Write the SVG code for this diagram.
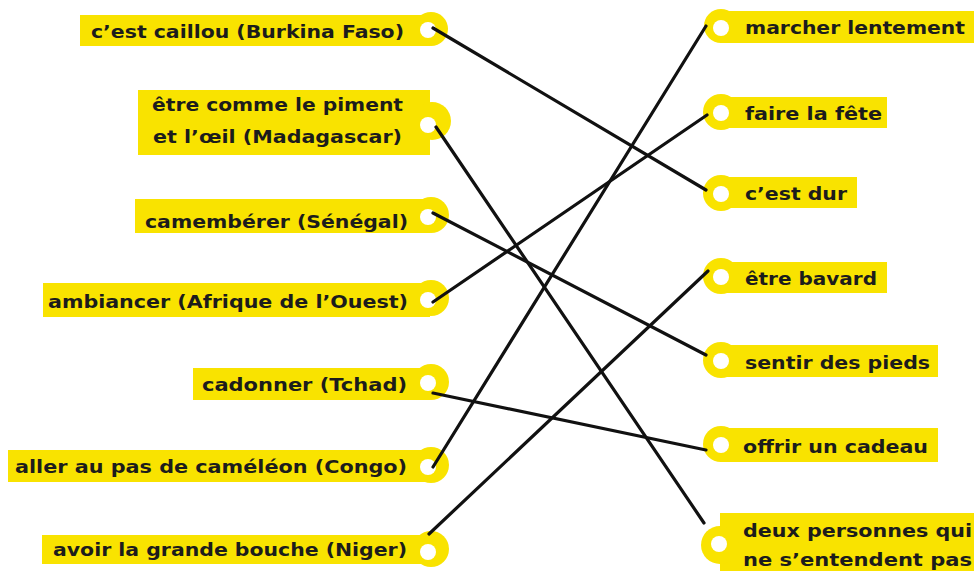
<svg xmlns="http://www.w3.org/2000/svg" width="974" height="571" viewBox="0 0 974 571">
<style>
.bg{fill:#f9e300}
.ring{fill:#f9e300}
.hole{fill:#ffffff}
.t{font-family:"DejaVu Sans","Liberation Sans",sans-serif;font-weight:bold;font-size:18px;fill:#1c1c1c}
.l{text-anchor:end}
.c{stroke:#111;stroke-width:3.2;stroke-linecap:round;fill:none}
</style>
<rect width="974" height="571" fill="#ffffff"/>
<g id="left-nodes">
<g id="n-caillou">
<rect class="bg" x="80" y="15" width="350" height="31"/>
<circle class="ring" cx="431" cy="29" r="17"/>
<circle class="hole" cx="428" cy="30" r="8"/>
<text class="t l" x="404" y="38" textLength="313" lengthAdjust="spacingAndGlyphs">c’est caillou (Burkina Faso)</text>
</g>
<g id="n-piment">
<rect class="bg" x="138" y="90" width="292" height="65"/>
<circle class="ring" cx="432" cy="121" r="19"/>
<circle class="hole" cx="428" cy="125" r="8"/>
<text class="t l" x="403" y="111" textLength="251" lengthAdjust="spacingAndGlyphs">être comme le piment</text>
<text class="t l" x="402" y="143" textLength="249" lengthAdjust="spacingAndGlyphs">et l’œil (Madagascar)</text>
</g>
<g id="n-camemberer">
<rect class="bg" x="135" y="199" width="295" height="34"/>
<circle class="ring" cx="431" cy="215" r="18"/>
<circle class="hole" cx="428" cy="217" r="8"/>
<text class="t l" x="408" y="228" textLength="263" lengthAdjust="spacingAndGlyphs">camembérer (Sénégal)</text>
</g>
<g id="n-ambiancer">
<rect class="bg" x="43" y="283" width="387" height="34"/>
<circle class="ring" cx="431" cy="298" r="18"/>
<circle class="hole" cx="428" cy="300" r="8"/>
<text class="t l" x="408" y="308" textLength="360" lengthAdjust="spacingAndGlyphs">ambiancer (Afrique de l’Ouest)</text>
</g>
<g id="n-cadonner">
<rect class="bg" x="193" y="368" width="237" height="32"/>
<circle class="ring" cx="431" cy="382" r="18"/>
<circle class="hole" cx="428" cy="383" r="8"/>
<text class="t l" x="407" y="391" textLength="205" lengthAdjust="spacingAndGlyphs">cadonner (Tchad)</text>
</g>
<g id="n-cameleon">
<rect class="bg" x="8" y="450" width="422" height="32"/>
<circle class="ring" cx="431" cy="465" r="18"/>
<circle class="hole" cx="428" cy="467" r="8"/>
<text class="t l" x="407" y="473" textLength="392" lengthAdjust="spacingAndGlyphs">aller au pas de caméléon (Congo)</text>
</g>
<g id="n-bouche">
<rect class="bg" x="42" y="535" width="388" height="29"/>
<circle class="ring" cx="431" cy="549" r="18"/>
<circle class="hole" cx="428" cy="552" r="8"/>
<text class="t l" x="407" y="556" textLength="354" lengthAdjust="spacingAndGlyphs">avoir la grande bouche (Niger)</text>
</g>
</g>
<g id="right-nodes">
<g id="n-marcher">
<rect class="bg" x="720" y="11" width="254" height="32"/>
<circle class="ring" cx="721" cy="26" r="17"/>
<circle class="hole" cx="721" cy="28" r="8"/>
<text class="t" x="745" y="34" textLength="220" lengthAdjust="spacingAndGlyphs">marcher lentement</text>
</g>
<g id="n-fete">
<rect class="bg" x="720" y="97" width="167" height="31"/>
<circle class="ring" cx="721" cy="112" r="18"/>
<circle class="hole" cx="721" cy="113" r="8"/>
<text class="t" x="745" y="120" textLength="137" lengthAdjust="spacingAndGlyphs">faire la fête</text>
</g>
<g id="n-dur">
<rect class="bg" x="720" y="177" width="137" height="31"/>
<circle class="ring" cx="721" cy="193" r="18"/>
<circle class="hole" cx="721" cy="194" r="8"/>
<text class="t" x="745" y="200" textLength="102" lengthAdjust="spacingAndGlyphs">c’est dur</text>
</g>
<g id="n-bavard">
<rect class="bg" x="720" y="262" width="167" height="31"/>
<circle class="ring" cx="721" cy="276" r="18"/>
<circle class="hole" cx="721" cy="277" r="8"/>
<text class="t" x="745" y="285" textLength="132" lengthAdjust="spacingAndGlyphs">être bavard</text>
</g>
<g id="n-pieds">
<rect class="bg" x="720" y="345" width="218" height="32"/>
<circle class="ring" cx="721" cy="360" r="18"/>
<circle class="hole" cx="721" cy="361" r="8"/>
<text class="t" x="745" y="369" textLength="185" lengthAdjust="spacingAndGlyphs">sentir des pieds</text>
</g>
<g id="n-cadeau">
<rect class="bg" x="720" y="428" width="218" height="34"/>
<circle class="ring" cx="721" cy="444" r="18"/>
<circle class="hole" cx="721" cy="445" r="8"/>
<text class="t" x="743" y="453" textLength="185" lengthAdjust="spacingAndGlyphs">offrir un cadeau</text>
</g>
<g id="n-deux">
<rect class="bg" x="720" y="513" width="254" height="58"/>
<circle class="ring" cx="720" cy="545" r="19"/>
<circle class="hole" cx="719" cy="544" r="8"/>
<text class="t" x="743" y="537" textLength="229" lengthAdjust="spacingAndGlyphs">deux personnes qui</text>
<text class="t" x="743" y="566" textLength="229" lengthAdjust="spacingAndGlyphs">ne s’entendent pas</text>
</g>
</g>
<g id="connectors">
<line class="c" x1="433" y1="28" x2="706" y2="190"/>
<line class="c" x1="436" y1="127" x2="704" y2="523"/>
<line class="c" x1="433" y1="213" x2="706" y2="355"/>
<line class="c" x1="433" y1="302" x2="707" y2="115"/>
<line class="c" x1="433" y1="393" x2="706" y2="450"/>
<line class="c" x1="433" y1="467" x2="706" y2="26"/>
<line class="c" x1="429" y1="534" x2="708" y2="271"/>
</g>
</svg>
